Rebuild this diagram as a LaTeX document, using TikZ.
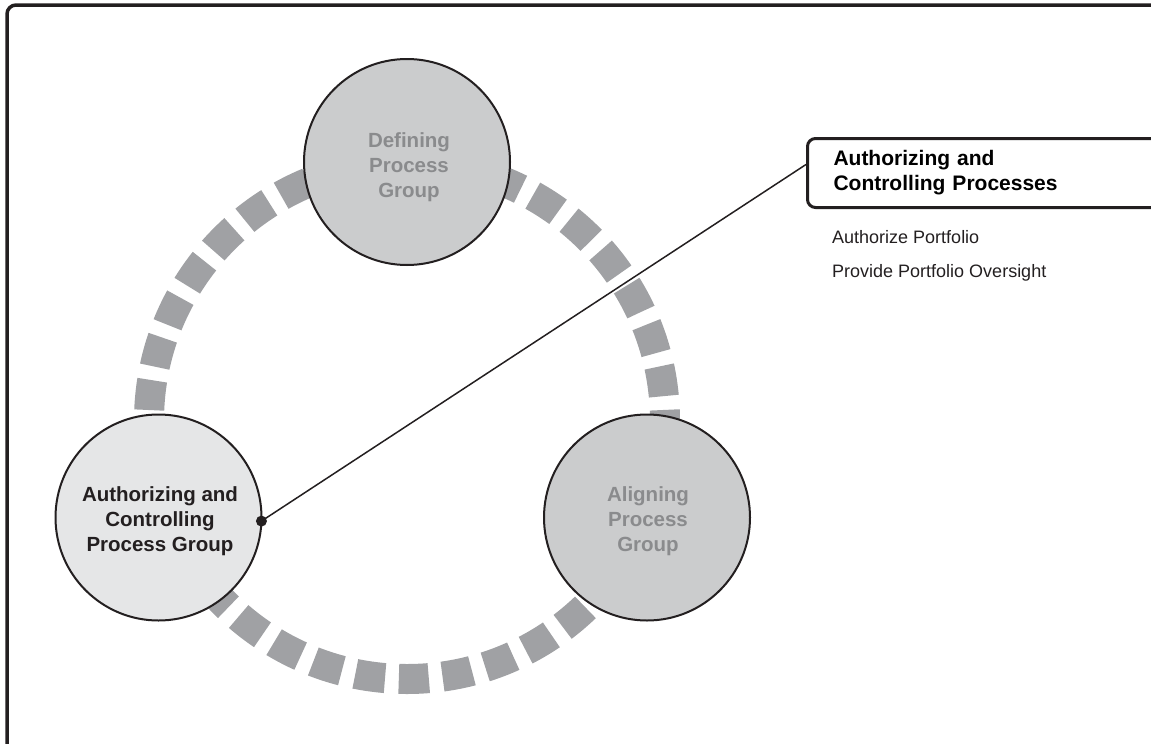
\documentclass[tikz,border=0pt]{standalone}
\usepackage{fontspec}
\setmainfont{Liberation Sans}
\definecolor{framecol}{HTML}{231F20}
\definecolor{dashgray}{HTML}{A0A1A4}
\definecolor{fillgray}{HTML}{CBCCCD}
\definecolor{filllight}{HTML}{E5E6E7}
\definecolor{textgray}{HTML}{8A8B8D}
\tikzset{
  groupcircle/.style={circle, draw=framecol, line width=2pt, minimum size=206pt, inner sep=0pt, outer sep=0pt},
  grouptext/.style={align=center, inner sep=0pt, font=\fontsize{20.5}{25}\selectfont\bfseries},
  ring/.style={draw=dashgray, line width=30pt, dash pattern=on 30pt off 13.81pt, dash phase=18.91pt},
  headbox/.style={draw=framecol, line width=3pt, rounded corners=8pt, anchor=north west,
    minimum height=69pt, text width=302pt, inner xsep=26pt, inner ysep=0pt, align=left,
    font=\fontsize{21}{25}\selectfont\bfseries},
  itemtext/.style={anchor=base west, inner sep=0pt, font=\fontsize{18}{22}\selectfont, text=framecol},
  link/.style={draw=framecol, line width=1.5pt}
}
\begin{document}
\begin{tikzpicture}[x=1pt,y=1pt]
\useasboundingbox (0,0) rectangle (1151,-744);
\clip (0,0) rectangle (1151,-744);
% frame
\draw[draw=framecol, line width=3.5pt, rounded corners=9pt] (7,-5) rectangle (1175,-770);
% dashed ring
\coordinate (ringc) at (407,-421);
\draw[ring] (ringc) circle (258pt);
% process group circles
\node[groupcircle, fill=fillgray] (T) at (407,-162) {};
\node[groupcircle, fill=filllight] (L) at (158.5,-517.5) {};
\node[groupcircle, fill=fillgray] (R) at (647,-517.5) {};
\node[grouptext, text=textgray] (Ttext) at ([shift={(2,-5.5)}]T.center) {Defining\\Process\\Group};
\node[grouptext, text=framecol] (Ltext) at ([shift={(1.5,-4)}]L.center) {Authorizing and\\Controlling\\Process Group};
\node[grouptext, text=textgray] (Rtext) at ([shift={(1,-4)}]R.center) {Aligning\\Process\\Group};
% header box
\node[headbox] (box) at (806,-137) {Authorizing and\\Controlling Processes};
% connector
\node[circle, fill=framecol, inner sep=0pt, minimum size=11pt] (dot) at (L.-2.5) {};
\draw[link] (dot.center) -- ([yshift=8.5pt]box.west);
% process list
\node[itemtext] (p1) at (832,-243) {Authorize Portfolio};
\node[itemtext] (p2) at (832,-277) {Provide Portfolio Oversight};
\end{tikzpicture}
\end{document}
